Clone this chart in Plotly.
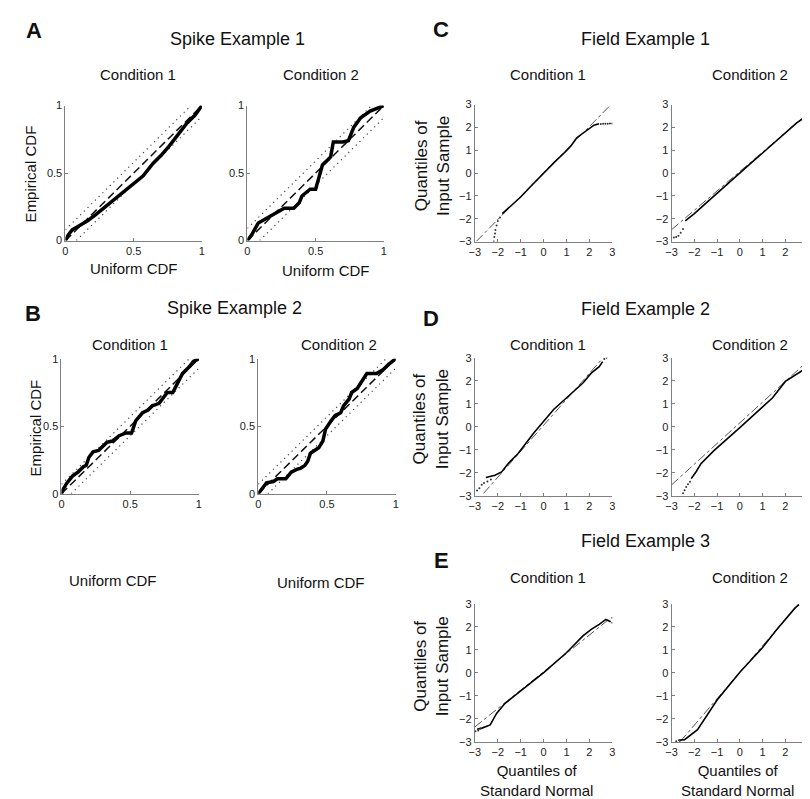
import plotly.graph_objects as go

W, H = 810, 799
FONT = "Liberation Sans, Arial, sans-serif"

# ---------------- data: empirical CDF (KS plots) ----------------
A1_X = [0, 0.02, 0.05, 0.10, 0.16, 0.22, 0.28, 0.35, 0.42, 0.50, 0.57, 0.64, 0.70, 0.76, 0.82, 0.89, 0.95, 1.0]
A1_Y = [0, 0.04, 0.08, 0.11, 0.145, 0.19, 0.24, 0.30, 0.36, 0.43, 0.48, 0.57, 0.63, 0.70, 0.78, 0.87, 0.93, 1.0]

A2_X = [0, 0.03, 0.08, 0.13, 0.20, 0.27, 0.34, 0.38, 0.40, 0.46, 0.50, 0.55, 0.61, 0.63, 0.70, 0.74, 0.78, 0.83, 0.90, 0.95, 1.0]
A2_Y = [0, 0.04, 0.13, 0.16, 0.20, 0.24, 0.24, 0.28, 0.33, 0.38, 0.38, 0.56, 0.62, 0.73, 0.73, 0.74, 0.84, 0.91, 0.96, 0.98, 1.0]

B1_X = [0, 0.01, 0.04, 0.08, 0.12, 0.16, 0.18, 0.20, 0.23, 0.27, 0.29, 0.33, 0.37, 0.42, 0.47, 0.51, 0.54, 0.59, 0.63, 0.66, 0.71, 0.75, 0.77, 0.81, 0.86, 0.88, 0.93, 0.96, 1.0]
B1_Y = [0, 0.03, 0.08, 0.13, 0.16, 0.20, 0.21, 0.27, 0.31, 0.32, 0.34, 0.38, 0.39, 0.43, 0.45, 0.45, 0.54, 0.60, 0.62, 0.65, 0.67, 0.72, 0.75, 0.75, 0.85, 0.89, 0.94, 0.98, 1.0]

B2_X = [0, 0.02, 0.06, 0.11, 0.14, 0.20, 0.24, 0.28, 0.31, 0.34, 0.36, 0.38, 0.41, 0.44, 0.47, 0.49, 0.53, 0.56, 0.60, 0.62, 0.66, 0.68, 0.72, 0.76, 0.79, 0.86, 0.91, 0.95, 1.0]
B2_Y = [0, 0.03, 0.08, 0.09, 0.11, 0.11, 0.16, 0.18, 0.19, 0.21, 0.24, 0.30, 0.32, 0.34, 0.39, 0.48, 0.54, 0.58, 0.60, 0.65, 0.70, 0.75, 0.78, 0.84, 0.89, 0.89, 0.92, 0.96, 1.0]

KS_BOUND = [0.08, 0.09, 0.07, 0.07]   # confidence band half-widths: A1, A2, B1, B2

# ---------------- data: QQ plots ----------------
C1_X = [-1.8, -1.5, -1.0, -0.5, 0.0, 0.5, 1.0, 1.2, 1.45, 1.8, 2.0, 2.2, 2.42]
C1_Y = [-1.78, -1.5, -1.05, -0.52, 0.0, 0.5, 0.98, 1.2, 1.55, 1.82, 1.96, 2.1, 2.16]
C1_TX = [-1.9, -2.0, -2.05, -2.1, -2.12, -2.15, -2.17, 2.5, 2.6, 2.7, 2.8, 2.9, 3.0]
C1_TY = [-1.95, -2.1, -2.3, -2.5, -2.65, -2.8, -3.0, 2.15, 2.16, 2.16, 2.16, 2.17, 2.17]
C1_REF = [1.02, 0.0, -2.93, 2.93]   # slope, intercept, x start, x end

C2_X = [-2.4, -2.0, -1.5, -1.0, -0.5, 0.0, 0.5, 1.0, 1.5, 2.0, 2.5, 2.79]
C2_Y = [-2.09, -1.78, -1.33, -0.88, -0.42, 0.03, 0.45, 0.88, 1.32, 1.79, 2.2, 2.4]
C2_TX = [-2.5, -2.6, -2.7, -2.8, -2.9, 2.85, 2.95, 3.0]
C2_TY = [-2.45, -2.62, -2.75, -2.8, -2.82, 2.35, 2.45, 2.55]
C2_REF = [0.85, 0.07, -3.0, 3.0]

D1_X = [-2.52, -2.12, -1.83, -1.55, -1.12, -0.41, 0.44, 1.15, 1.72, 2.08, 2.43, 2.58]
D1_Y = [-2.21, -2.11, -1.97, -1.61, -1.18, -0.25, 0.75, 1.4, 1.9, 2.33, 2.61, 2.83]
D1_TX = [-2.9, -2.8, -2.7, -2.6, -2.45, -2.3, 2.65, 2.75]
D1_TY = [-2.78, -2.68, -2.52, -2.45, -2.38, -2.3, 2.95, 3.0]
D1_REF = [1.13, 0.06, -2.62, 2.5]

D2_X = [-2.14, -1.93, -1.71, -1.14, 0.0, 0.86, 1.43, 2.0, 2.57, 2.79]
D2_Y = [-2.26, -1.97, -1.61, -1.04, -0.04, 0.75, 1.25, 1.97, 2.33, 2.47]
D2_TX = [-2.5, -2.43, -2.36, -2.28, -2.19, 2.86, 2.93]
D2_TY = [-2.9, -2.76, -2.62, -2.5, -2.4, 2.47, 2.71]
D2_REF = [0.9, 0.17, -3.0, 2.93]

E1_X = [-2.9, -2.69, -2.33, -2.05, -1.69, 0.02, 1.01, 1.72, 2.08, 2.43, 2.72, 2.93]
E1_Y = [-2.45, -2.4, -2.26, -1.76, -1.33, 0.03, 0.89, 1.61, 1.9, 2.11, 2.33, 2.23]
E1_TX = [-2.97, -2.85, -2.75, 3.0, 3.0]
E1_TY = [-2.54, -2.5, -2.42, 2.4, 2.18]
E1_REF = [0.8, 0.05, -3.0, 2.9]

E2_X = [-2.71, -2.43, -1.86, -1.57, -1.0, 0.0, 1.0, 1.57, 2.14, 2.43, 2.6]
E2_Y = [-2.93, -2.9, -2.47, -2.04, -1.18, 0.03, 1.11, 1.83, 2.47, 2.83, 2.97]
E2_TX = [-2.8, -2.65]
E2_TY = [-2.97, -2.95]
E2_REF = [1.15, 0.03, -2.62, 2.6]

CDF_TICKS = [0, 0.5, 1]
CDF_TICKTEXT = ["0", "0.5", "1"]
QQ_TICKS = [-3, -2, -1, 0, 1, 2, 3]
QQ_TICKTEXT = ["\u22123", "\u22122", "\u22121", "0", "1", "2", "3"]

# ---------------- layout geometry (pixels) ----------------
# (left, right, top, bottom)
BOXES = [
    (52, 190, 93, 230), (236, 374, 93, 230),
    (48, 187, 350, 487), (247, 386, 350, 487),
    (466, 605, 92, 231), (665, 803, 92, 231),
    (466, 605, 349, 489), (665, 803, 349, 489),
    (466, 605, 599, 739), (665, 803, 599, 739),
]

fig = go.Figure()
layout = dict(
    width=W, height=H, margin=dict(l=0, r=0, t=0, b=0),
    paper_bgcolor="white", plot_bgcolor="white", showlegend=False,
    font=dict(family=FONT, color="#111"),
)

cdf_sets = [(A1_X, A1_Y), (A2_X, A2_Y), (B1_X, B1_Y), (B2_X, B2_Y)]
qq_sets = [
    (C1_X, C1_Y, C1_TX, C1_TY, C1_REF), (C2_X, C2_Y, C2_TX, C2_TY, C2_REF),
    (D1_X, D1_Y, D1_TX, D1_TY, D1_REF), (D2_X, D2_Y, D2_TX, D2_TY, D2_REF),
    (E1_X, E1_Y, E1_TX, E1_TY, E1_REF), (E2_X, E2_Y, E2_TX, E2_TY, E2_REF),
]

for i, (l, r, t, b) in enumerate(BOXES):
    n = i + 1
    xa = "x" if n == 1 else f"x{n}"
    ya = "y" if n == 1 else f"y{n}"
    is_cdf = i < 4
    ax_common = dict(
        showline=True, linecolor="#808080", linewidth=1, mirror=False,
        showgrid=False, zeroline=False, ticks="inside", ticklen=3,
        tickcolor="#808080", tickfont=dict(size=11, color="#222", family=FONT),
        fixedrange=True,
    )
    if is_cdf:
        rng, tv, tt = [0, 1], CDF_TICKS, CDF_TICKTEXT
    else:
        rng, tv, tt = [-3, 3], QQ_TICKS, QQ_TICKTEXT
    layout["xaxis" if n == 1 else f"xaxis{n}"] = dict(
        ax_common, domain=[l / W, r / W], range=rng, tickvals=tv, ticktext=tt,
        anchor=ya)
    layout["yaxis" if n == 1 else f"yaxis{n}"] = dict(
        ax_common, domain=[1 - b / H, 1 - t / H], range=rng, tickvals=tv, ticktext=tt,
        anchor=xa)

    if is_cdf:
        cx, cy = cdf_sets[i]
        c = KS_BOUND[i]
        dot = dict(color="#444", width=1.2, dash="1.2px,4px")
        fig.add_trace(go.Scatter(x=[0, 1 - c], y=[c, 1], mode="lines", line=dot,
                                 xaxis=xa, yaxis=ya, hoverinfo="skip"))
        fig.add_trace(go.Scatter(x=[c, 1], y=[0, 1 - c], mode="lines", line=dot,
                                 xaxis=xa, yaxis=ya, hoverinfo="skip"))
        fig.add_trace(go.Scatter(x=[0, 1], y=[0, 1], mode="lines",
                                 line=dict(color="#111", width=1.5, dash="8px,4px"),
                                 xaxis=xa, yaxis=ya, hoverinfo="skip"))
        fig.add_trace(go.Scatter(x=cx, y=cy, mode="lines",
                                 line=dict(color="black", width=3.5),
                                 xaxis=xa, yaxis=ya))
    else:
        qx, qy, tx, ty, ref = qq_sets[i - 4]
        s, k, x0, x1 = ref
        fig.add_trace(go.Scatter(x=[x0, x1], y=[s * x0 + k, s * x1 + k], mode="lines",
                                 line=dict(color="#555", width=1, dash="dashdot"),
                                 xaxis=xa, yaxis=ya, hoverinfo="skip"))
        fig.add_trace(go.Scatter(x=qx, y=qy, mode="lines",
                                 line=dict(color="black", width=1.6),
                                 xaxis=xa, yaxis=ya))
        fig.add_trace(go.Scatter(x=tx, y=ty, mode="markers",
                                 marker=dict(color="#333", size=2),
                                 xaxis=xa, yaxis=ya, hoverinfo="skip"))

# ---------------- text ----------------
def txt(s, px, py, size, bold=False, angle=0):
    return dict(text=f"<b>{s}</b>" if bold else s, x=px / W, y=1 - py / H,
                xref="paper", yref="paper", xanchor="center", yanchor="middle",
                showarrow=False, textangle=angle,
                font=dict(size=size, family=FONT, color="#111"))

ann = [
    txt("A", 20, 17, 22, bold=True), txt("B", 19, 304, 22, bold=True),
    txt("C", 432, 16, 22, bold=True), txt("D", 422, 309, 22, bold=True),
    txt("E", 432, 555, 22, bold=True),
    txt("Spike Example 1", 226, 25, 18), txt("Spike Example 2", 223, 298, 18),
    txt("Field Example 1", 639, 25, 18), txt("Field Example 2", 639, 300, 18),
    txt("Field Example 3", 639, 535, 18),
    txt("Condition 1", 125, 61, 15), txt("Condition 2", 310, 61, 15),
    txt("Condition 1", 117, 336, 15), txt("Condition 2", 329, 336, 15),
    txt("Condition 1", 540, 61, 15), txt("Condition 2", 744, 61, 15),
    txt("Condition 1", 540, 336, 15), txt("Condition 2", 744, 336, 15),
    txt("Condition 1", 540, 572, 15), txt("Condition 2", 744, 572, 15),
    txt("Uniform CDF", 121, 258, 15), txt("Uniform CDF", 315, 260, 15),
    txt("Uniform CDF", 100, 575, 15), txt("Uniform CDF", 310, 577, 15),
    txt("Empirical CDF", 17, 162, 15, angle=-90),
    txt("Empirical CDF", 22, 420, 15, angle=-90),
    txt("Quantiles of<br>Input Sample", 423, 154, 17, angle=-90),
    txt("Quantiles of<br>Input Sample", 422, 411, 17, angle=-90),
    txt("Quantiles of<br>Input Sample", 422, 662, 17, angle=-90),
    txt("Quantiles of<br>Standard Normal", 528, 778, 15),
    txt("Quantiles of<br>Standard Normal", 732, 778, 15),
]
layout["annotations"] = ann
fig.update_layout(**layout)
fig.write_html("out.html")
